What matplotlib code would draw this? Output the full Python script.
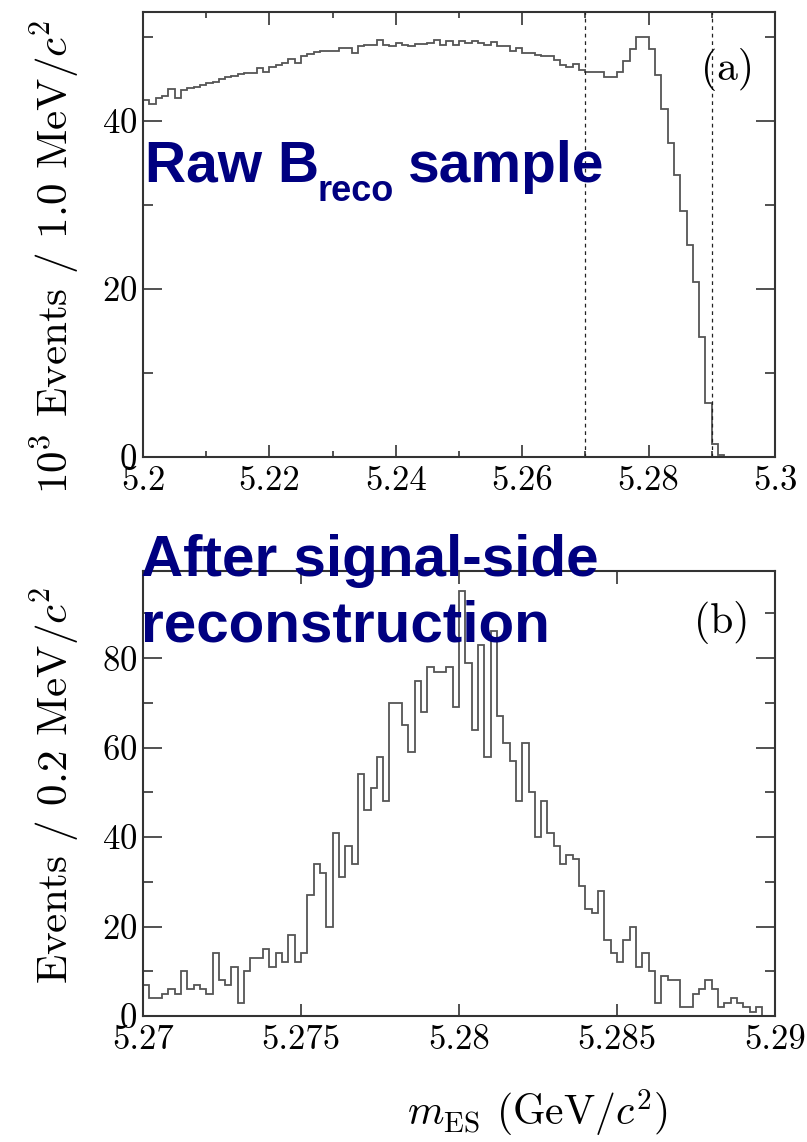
import numpy as np
import matplotlib.pyplot as plt
from matplotlib.ticker import MultipleLocator, FuncFormatter

plt.rcParams['mathtext.fontset'] = 'cm'
plt.rcParams['font.family'] = 'cmr10'
plt.rcParams['axes.formatter.use_mathtext'] = True

W, H = 807, 1142

# (a) raw Breco sample, 10^3 events per 1 MeV bin, 5.200 - 5.300 GeV
raw_lo, raw_hi = 5.20, 5.30
raw_counts = [
    42.5, 42.1, 42.7, 43.0, 43.8, 42.7, 43.7, 43.9, 44.1, 44.3,
    44.5, 44.7, 45.0, 45.2, 45.4, 45.6, 45.7, 45.7, 46.3, 45.9,
    46.4, 46.7, 46.9, 47.4, 46.9, 47.8, 48.0, 48.2, 48.3, 48.4,
    48.4, 48.7, 48.7, 48.1, 49.0, 49.1, 49.1, 49.7, 49.1, 49.0,
    49.3, 49.1, 49.0, 49.2, 49.2, 49.3, 49.7, 49.1, 49.5, 49.1,
    49.5, 49.3, 49.5, 49.3, 49.1, 49.4, 48.9, 48.9, 48.3, 48.7,
    48.1, 48.1, 47.9, 47.7, 47.8, 47.3, 46.7, 46.5, 46.8, 46.1,
    45.8, 45.8, 45.8, 45.3, 45.3, 45.8, 47.2, 48.6, 50.0, 50.0,
    48.6, 45.5, 41.5, 37.4, 33.6, 29.3, 25.3, 20.9, 14.3, 6.4,
    1.5, 0.2, 0, 0, 0, 0, 0, 0, 0, 0,
]
signal_window = [5.27, 5.29]

# (b) after signal-side reconstruction, events per 0.2 MeV bin, 5.27 - 5.29 GeV
sig_lo, sig_hi = 5.27, 5.29
sig_counts = [
    7, 4, 4, 5, 6, 5, 10, 6, 7, 6,
    5, 14, 8, 7, 11, 3, 10, 13, 13, 15,
    11, 14, 12, 18, 12, 14, 27, 34, 32, 20,
    41, 31, 38, 34, 54, 46, 51, 58, 48, 70,
    70, 65, 59, 75, 68, 78, 77, 77, 78, 69,
    95, 79, 64, 83, 58, 86, 67, 61, 57, 48,
    61, 50, 40, 48, 41, 38, 34, 36, 35, 29,
    24, 23, 28, 17, 14, 12, 17, 20, 11, 14,
    10, 3, 9, 8, 8, 2, 2, 5, 6, 8,
    6, 2, 3, 4, 3, 2, 1, 2, 0, 0,
]

line_col = '#555555'
axis_col = '#333333'
navy = '#000080'


def fx(px):
    return px / W


def fy(py):
    return 1 - py / H


def style_axes(ax, xmaj, xmin, ymaj, ymin, fmt):
    for s in ax.spines.values():
        s.set_color(axis_col)
        s.set_linewidth(1.5)
    ax.xaxis.set_major_locator(MultipleLocator(xmaj))
    if xmin:
        ax.xaxis.set_minor_locator(MultipleLocator(xmin))
    ax.yaxis.set_major_locator(MultipleLocator(ymaj))
    ax.yaxis.set_minor_locator(MultipleLocator(ymin))
    ax.xaxis.set_major_formatter(FuncFormatter(fmt))
    ax.tick_params(which='both', direction='in', top=True, right=True,
                   color=axis_col, labelsize=25, width=1.2)
    ax.tick_params(axis='y', which='major', length=14, pad=4)
    ax.tick_params(axis='y', which='minor', length=7)
    ax.tick_params(axis='x', which='major', length=9, pad=6)
    ax.tick_params(axis='x', which='minor', length=4.5)


fig = plt.figure(figsize=(W / 100, H / 100), dpi=100)

# ---- panel (a)
ax1 = fig.add_axes([fx(143), fy(457), 632 / W, 445 / H])
edges1 = np.linspace(raw_lo, raw_hi, len(raw_counts) + 1)
ax1.stairs(raw_counts, edges1, color=line_col, lw=1.3)
for xv in signal_window:
    ax1.axvline(xv, color='#222222', lw=0.9, ls=(0, (3, 3)))
ax1.set_xlim(raw_lo, raw_hi)
ax1.set_ylim(0, 53)
style_axes(ax1, 0.02, 0.01, 20, 10, lambda v, p: '%g' % round(v, 3))
ax1.text(0.925, 0.87, '(a)', transform=ax1.transAxes, fontsize=30,
         ha='center', va='center')

# ---- panel (b)
ax2 = fig.add_axes([fx(143), fy(1016), 632 / W, 445 / H])
edges2 = np.linspace(sig_lo, sig_hi, len(sig_counts) + 1)
ax2.stairs(sig_counts, edges2, color=line_col, lw=1.3)
ax2.set_xlim(sig_lo, sig_hi)
ax2.set_ylim(0, 99.5)
style_axes(ax2, 0.005, None, 20, 10, lambda v, p: '%g' % round(v, 4))
ax2.text(0.915, 0.885, '(b)', transform=ax2.transAxes, fontsize=30,
         ha='center', va='center')

# ---- axis titles
fig.text(fx(55), fy(257), r'$10^3$ Events / 1.0 MeV/$c^2$', rotation=90,
         fontsize=31, ha='center', va='center')
fig.text(fx(55), fy(785), r'Events / 0.2 MeV/$c^2$', rotation=90,
         fontsize=31, ha='center', va='center')
fig.text(fx(537), fy(1126), r'$m_{\rm ES}$ (GeV/$c^2$)', fontsize=30,
         ha='center', va='baseline')

# ---- blue annotations
blue = dict(color=navy, family='Liberation Sans', weight='bold', va='baseline')
fig.text(fx(145), fy(182), 'Raw B', fontsize=41, **blue)
fig.text(fx(318), fy(201), 'reco', fontsize=26, **blue)
fig.text(fx(408), fy(182), 'sample', fontsize=41, **blue)
fig.text(fx(141), fy(576), 'After signal-side', fontsize=42, **blue)
fig.text(fx(141), fy(641), 'reconstruction', fontsize=42, **blue)

fig.savefig('out.png', dpi=100)
